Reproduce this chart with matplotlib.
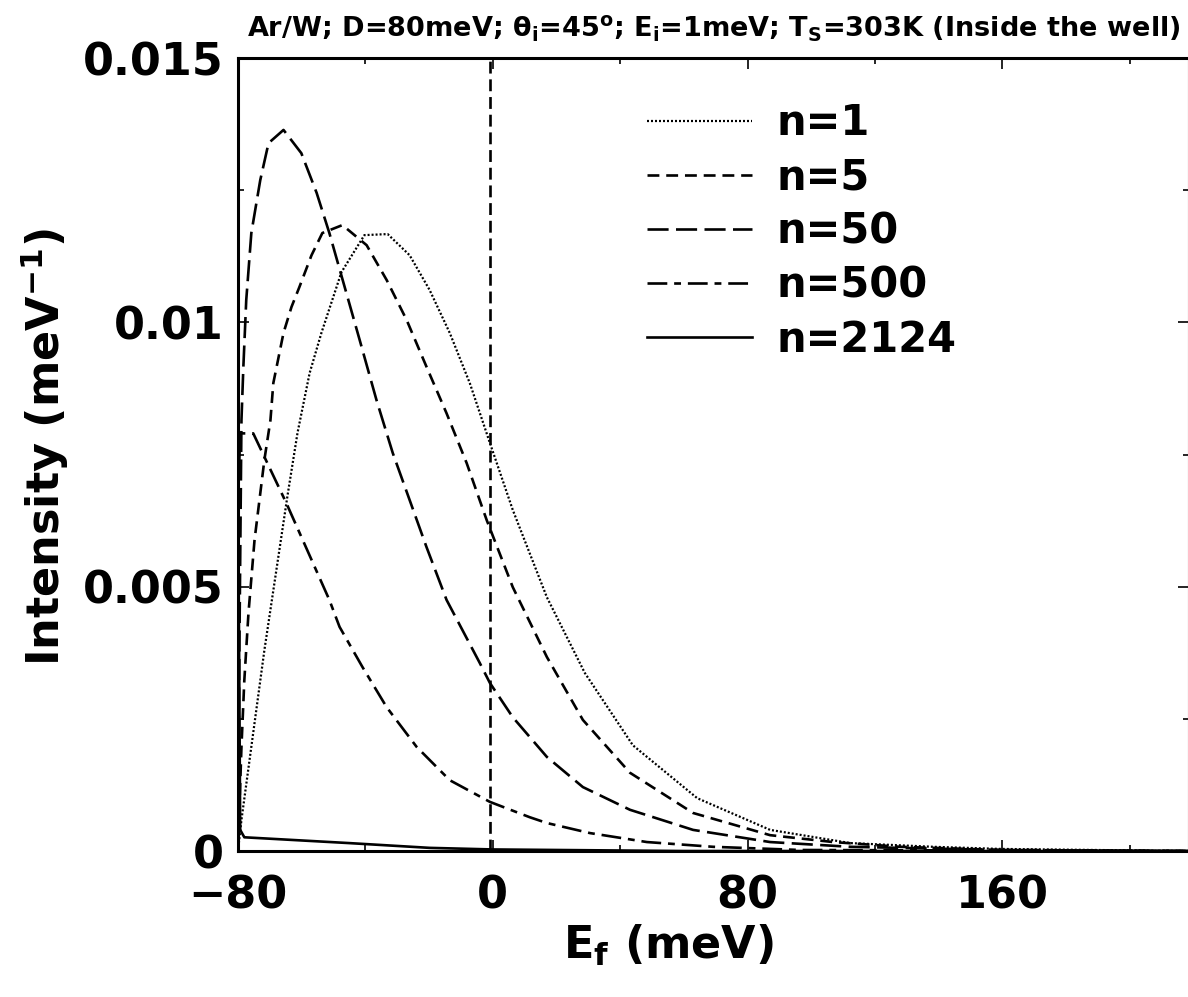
import matplotlib
matplotlib.use("Agg")
import matplotlib.pyplot as plt
from matplotlib.ticker import FixedLocator, MultipleLocator, FixedFormatter

plt.rcParams['font.family'] = ['DejaVu Sans']
plt.rcParams['font.weight'] = 'bold'
plt.rcParams['mathtext.default'] = 'regular'

# ---------------- data ----------------
e_n1 = [-80.0, -78.9, -71.7, -64.5, -61.3, -57.5, -53.8, -47.5, -40.3, -33.0, -26.1,
        -19.8, -13.5, -7.2, -0.9, 6.3, 17.0, 28.9, 44.0, 64.2, 87.1, 112.3, 138.4, 159.4, 218.6]
i_n1 = [0.0, 0.00059, 0.00380, 0.00670, 0.00791, 0.00904, 0.00980, 0.01095, 0.01165, 0.01167, 0.01127,
        0.01061, 0.00980, 0.00885, 0.00772, 0.00645, 0.00480, 0.00337, 0.00200, 0.00100, 0.00040, 0.00015,
        0.00008, 0.00004, 0.0]

e_n5 = [-80.0, -79.6, -78.9, -78.0, -76.7, -74.8, -71.7, -69.8, -68.9, -65.7, -63.2, -60.7, -56.9,
        -53.5, -47.2, -39.6, -33.3, -27.0, -20.8, -14.5, -8.2, -1.9, 6.3, 17.0, 28.3, 43.1, 62.9,
        87.1, 106.9, 128.0, 159.4, 218.6]
i_n5 = [0.0, 0.00072, 0.00197, 0.00323, 0.00450, 0.00588, 0.00740, 0.00815, 0.00885, 0.00980, 0.01029,
        0.01067, 0.01127, 0.01169, 0.01184, 0.01146, 0.01080, 0.01004, 0.00916, 0.00828, 0.00734,
        0.00626, 0.00499, 0.00367, 0.00248, 0.00148, 0.00072, 0.00030, 0.00017, 0.00008, 0.00002, 0.0]

e_n50 = [-80.0, -79.6, -78.9, -78.3, -77.4, -75.8, -73.0, -70.4, -65.7, -60.1, -55.3, -51.3, -46.5,
         -41.8, -36.5, -31.4, -26.1, -20.8, -14.5, -4.1, -0.9, 6.3, 17.0, 28.3, 43.1, 62.9, 87.1,
         112.3, 159.4, 218.6]
i_n50 = [0.0, 0.0035, 0.00815, 0.00916, 0.01042, 0.01169, 0.01269, 0.01339, 0.01364, 0.01320, 0.01245,
         0.01169, 0.01067, 0.00967, 0.00853, 0.00753, 0.00664, 0.00575, 0.00475, 0.00356, 0.00318,
         0.00253, 0.00178, 0.00121, 0.00078, 0.00040, 0.00017, 0.00008, 0.00002, 0.0]

e_n500 = [-80.0, -79.3, -75.2, -64.8, -51.3, -48.1, -40.9, -33.3, -23.9, -13.5, -0.9, 11.6, 17.0,
          30.5, 48.4, 69.2, 96.5, 218.6]
i_n500 = [0.0066, 0.0079, 0.0079, 0.00658, 0.00475, 0.00424, 0.00348, 0.00272, 0.00197, 0.00134,
          0.00093, 0.00064, 0.00053, 0.00034, 0.00017, 0.00008, 0.00002, 0.0]

e_n2124 = [-80.0, -79.3, -78.0, -45.0, -19.8, 0.0, 60.0, 218.6]
i_n2124 = [0.0072, 0.0004, 0.00026, 0.00015, 0.00006, 0.00003, 0.0, 0.0]

series_labels = ['n=1', 'n=5', 'n=50', 'n=500', 'n=2124']
well_edge = -1.0

xticks_major = [-80, 0, 80, 160]
xtick_labels = ['\u221280', '0', '80', '160']
yticks_major = [0, 0.005, 0.01, 0.015]
ytick_labels = ['0', '0.005', '0.01', '0.015']

# ---------------- figure ----------------
fig = plt.figure(figsize=(11.88, 9.97), dpi=100)
ax = fig.add_axes([0.2003, 0.1464, 0.8005, 0.7954])

lw = 1.9
ax.plot(e_n1, i_n1, color='black', lw=1.6, linestyle=(0, (0.9, 0.9)), label=series_labels[0])
ax.plot(e_n5, i_n5, color='black', lw=lw, linestyle=(0, (4.5, 2.6)), label=series_labels[1])
ax.plot(e_n50, i_n50, color='black', lw=lw, linestyle=(0, (8.0, 2.8)), label=series_labels[2])
ax.plot(e_n500, i_n500, color='black', lw=lw, linestyle=(0, (7.5, 2.6, 2.6, 2.6)), label=series_labels[3])
ax.plot(e_n2124, i_n2124, color='black', lw=lw, linestyle='-', label=series_labels[4])

ax.axvline(well_edge, color='black', lw=lw, linestyle=(0, (4.5, 2.2)))

ax.set_xlim(-80, 218.6)
ax.set_ylim(0, 0.015)

ax.xaxis.set_major_locator(FixedLocator(xticks_major))
ax.xaxis.set_major_formatter(FixedFormatter(xtick_labels))
ax.xaxis.set_minor_locator(MultipleLocator(40))
ax.yaxis.set_major_locator(FixedLocator(yticks_major))
ax.yaxis.set_major_formatter(FixedFormatter(ytick_labels))
ax.yaxis.set_minor_locator(MultipleLocator(0.0025))

ax.tick_params(which='both', direction='in', top=True, right=True, width=1.2, colors='black')
ax.tick_params(which='major', length=8, labelsize=32, pad=10)
ax.tick_params(which='minor', length=4)
ax.tick_params(axis='x', which='major', pad=17)
for lab in ax.get_xticklabels() + ax.get_yticklabels():
    lab.set_fontweight('bold')

for s in ax.spines.values():
    s.set_linewidth(2.2)

ax.set_ylabel('Intensity (meV$^{-1}$)', fontsize=32, fontweight='bold')
ax.yaxis.set_label_coords(-0.176, 0.51)
ax.set_xlabel('E$_{f}$ (meV)', fontsize=32, fontweight='bold')
ax.xaxis.set_label_coords(0.4526, -0.09)

ax.set_title('Ar/W; D=80meV; $\\theta_{i}$=45$^{o}$; E$_{i}$=1meV; T$_{S}$=303K (Inside the well)',
             fontsize=19.5, fontweight='bold', pad=15)

leg = ax.legend(loc='upper left', bbox_to_anchor=(0.4305, 0.944), frameon=False,
                prop={'size': 30, 'weight': 'bold'}, handlelength=2.5, handletextpad=0.6,
                labelspacing=0.29, borderpad=0, borderaxespad=0)

fig.savefig('out.png', dpi=100)
